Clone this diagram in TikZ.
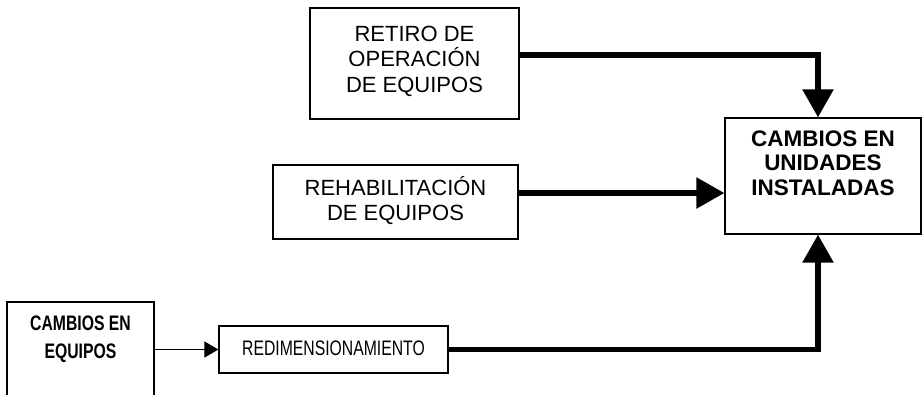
\documentclass[tikz,border=0pt]{standalone}
\usepackage{fontspec}
\setmainfont{Liberation Sans}
\usetikzlibrary{arrows.meta}
\newcommand{\nrm}{\fontsize{22pt}{25.5pt}\selectfont}
\newcommand{\bld}{\fontsize{22.5pt}{24.5pt}\selectfont\bfseries}
\newcommand{\cnd}[1]{\scalebox{0.75}[1]{#1}}
\begin{document}
\begin{tikzpicture}[x=1pt,y=-1pt,
  box/.style={draw, line width=1.2pt, inner sep=0pt},
  txt/.style={align=center, inner sep=0pt},
  bigarrow/.style={line width=5.5pt, -{Triangle[length=28pt,width=30pt]}},
  smallarrow/.style={line width=1pt, -{Triangle[length=14pt,width=16pt]}}]
\useasboundingbox (0,0) rectangle (922,394);
\clip (0,0) rectangle (922,394);
% boxes
\node[box, minimum width=209pt, minimum height=111pt] (r) at (414.5,63.5) {};
\node[txt, font=\nrm] (rt) at (414.5,61) {RETIRO DE\\ OPERACIÓN\\ DE EQUIPOS};
\node[box, minimum width=196pt, minimum height=116pt] (u) at (823,176) {};
\node[txt, font=\bld] (ut) at (823,163) {CAMBIOS EN\\ UNIDADES\\ INSTALADAS};
\node[box, minimum width=245pt, minimum height=74pt] (h) at (395.5,202) {};
\node[txt, font=\nrm] (ht) at (395.5,200.5) {REHABILITACIÓN\\ DE EQUIPOS};
\node[box, minimum width=147pt, minimum height=110pt] (e) at (80.5,357) {};
\node[txt, font={\fontsize{21pt}{28pt}\selectfont\bfseries}] (et) at (80.5,339) {\cnd{CAMBIOS EN}\\ \cnd{EQUIPOS}};
\node[box, minimum width=229pt, minimum height=47pt] (d) at (333.5,349.5) {};
\node[txt, font={\fontsize{21pt}{25pt}\selectfont}] (dt) at (333.5,348.5) {\cnd{REDIMENSIONAMIENTO}};
% connectors
\coordinate (ra) at ([yshift=8.5pt]r.east);
\draw[bigarrow] (ra) -| ([xshift=-5pt]u.north);
\coordinate (ha) at ([yshift=9pt]h.east);
\draw[bigarrow] (ha) -- (ha -| u.west);
\draw[smallarrow] (e.east |- d.west) -- (d.west);
\draw[bigarrow] (d.east) -| ([xshift=-5pt]u.south);
\end{tikzpicture}
\end{document}
